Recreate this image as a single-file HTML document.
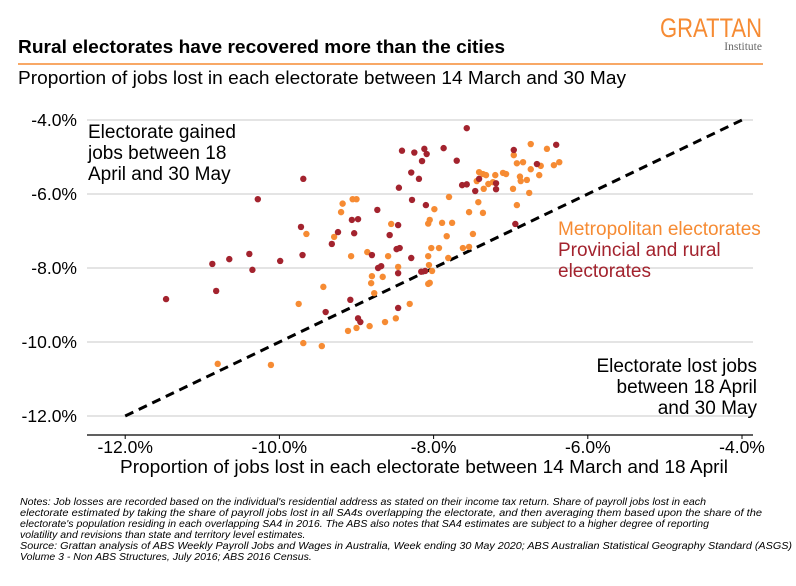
<!DOCTYPE html>
<html><head><meta charset="utf-8"><style>
body{margin:0;background:#fff;width:796px;height:581px;overflow:hidden;font-family:"Liberation Sans",Arial,sans-serif}
svg text{font-family:"Liberation Sans",Arial,sans-serif}
</style></head><body>
<svg id="chart" width="796" height="581" xmlns="http://www.w3.org/2000/svg">
<text x="762" y="37" text-anchor="end" font-size="27" fill="#F68B33" textLength="102" lengthAdjust="spacingAndGlyphs">GRATTAN</text>
<text x="762" y="50" text-anchor="end" font-size="11.5" fill="#666" style="font-family:'Liberation Serif',serif">Institute</text>
<text x="18" y="53" font-size="18.5" font-weight="bold" fill="#000" textLength="487" lengthAdjust="spacingAndGlyphs">Rural electorates have recovered more than the cities</text>
<line x1="18" y1="64" x2="763" y2="64" stroke="#F68B33" stroke-width="1.5"/>
<text x="18" y="84" font-size="18.5" fill="#000" textLength="608" lengthAdjust="spacingAndGlyphs">Proportion of jobs lost in each electorate between 14 March and 30 May</text>
<g id="grid"></g>
<line x1="87" y1="435" x2="753" y2="435" stroke="#000" stroke-width="1.3"/>
<g id="ticks"></g>
<line id="diag" stroke="#000" stroke-width="3" stroke-dasharray="9,6"/>
<g id="points"></g>
<text x="120" y="473" font-size="18.5" fill="#000" textLength="608" lengthAdjust="spacingAndGlyphs">Proportion of jobs lost in each electorate between 14 March and 18 April</text>
<g font-size="19" fill="#000">
<text x="88" y="138">Electorate gained</text><text x="88" y="159">jobs between 18</text><text x="88" y="180">April and 30 May</text></g>
<g font-size="19" fill="#000" text-anchor="end">
<text x="757" y="372">Electorate lost jobs</text><text x="757" y="393">between 18 April</text><text x="757" y="414">and 30 May</text></g>
<text x="558" y="235" font-size="19" fill="#F68B33">Metropolitan electorates</text>
<g font-size="19" fill="#A3232E"><text x="558" y="256">Provincial and rural</text><text x="558" y="277">electorates</text></g>
<g font-size="10.5" font-style="italic" fill="#000">
<text x="20" y="505" textLength="686" lengthAdjust="spacingAndGlyphs">Notes: Job losses are recorded based on the individual's residential address as stated on their income tax return. Share of payroll jobs lost in each</text>
<text x="20" y="516" textLength="742" lengthAdjust="spacingAndGlyphs">electorate estimated by taking the share of payroll jobs lost in all SA4s overlapping the electorate, and then averaging them based upon the share of the</text>
<text x="20" y="527" textLength="689" lengthAdjust="spacingAndGlyphs">electorate's population residing in each overlapping SA4 in 2016. The ABS also notes that SA4 estimates are subject to a higher degree of reporting</text>
<text x="20" y="538">volatility and revisions than state and territory level estimates.</text>
<text x="20" y="549" textLength="772" lengthAdjust="spacingAndGlyphs">Source: Grattan analysis of ABS Weekly Payroll Jobs and Wages in Australia, Week ending 30 May 2020; ABS Australian Statistical Geography Standard (ASGS)</text>
<text x="20" y="560">Volume 3 - Non ABS Structures, July 2016; ABS 2016 Census.</text></g>
</svg>
<script>
const xTicks=[-12,-10,-8,-6,-4];
const yTicks=[-4,-6,-8,-10,-12];
const metroX=[-9.05,-9.0,-9.18,-9.2,-8.55,-9.65,-9.29,-8.86,-9.07,-8.59,-8.46,-8.8,-8.66,-8.81,-8.77,-9.43,-9.75,-8.31,-8.49,-8.63,-8.83,-9.0,-9.11,-9.69,-9.45,-10.8,-10.11,
-6.74,-6.53,-6.96,-6.92,-6.84,-6.74,-6.61,-6.44,-6.37,-6.63,-7.41,-7.36,-7.32,-7.2,-7.1,-7.06,-6.88,-6.87,-6.79,-7.44,-7.29,-7.23,-7.35,-6.97,-6.76,-6.92,-7.42,-7.36,-7.54,-7.8,-7.99,-7.76,-7.89,-7.49,-7.83,-7.62,-7.54,-7.93,-8.03,-7.81,-8.07,-8.06,-8.02,-8.07,-8.05,-8.07,-8.05];
const metroY=[-6.14,-6.14,-6.26,-6.49,-6.81,-7.08,-7.16,-7.57,-7.68,-7.68,-7.97,-8.22,-8.24,-8.41,-8.68,-8.51,-8.97,-8.97,-9.36,-9.46,-9.57,-9.62,-9.7,-10.03,-10.11,-10.59,-10.62,
-4.65,-4.78,-4.95,-5.17,-5.14,-5.33,-5.24,-5.22,-5.14,-5.49,-5.41,-5.46,-5.49,-5.49,-5.43,-5.46,-5.53,-5.65,-5.62,-5.65,-5.73,-5.68,-5.86,-5.86,-5.97,-6.3,-6.22,-6.51,-6.49,-6.08,-6.41,-6.78,-6.78,-7.08,-7.14,-7.46,-7.43,-7.46,-7.46,-7.73,-7.68,-7.92,-8.08,-8.43,-8.4,-6.8,-6.7];
const ruralX=[-8.41,-8.25,-8.12,-8.09,-8.15,-8.29,-8.19,-8.45,-8.28,-8.1,-9.69,-10.28,-8.73,-9.06,-8.98,-8.46,-9.72,-9.03,-8.57,-9.32,-9.24,-8.48,-8.44,-8.8,-8.29,-9.7,-10.39,-10.65,-10.87,-10.35,-9.99,-8.72,-8.68,-8.46,-8.16,-8.11,-10.82,-11.47,-9.08,-9.4,-8.46,-8.98,-8.95,
-7.57,-7.87,-7.7,-6.96,-6.41,-6.66,-7.63,-7.57,-7.41,-7.46,-7.19,-7.19,-6.94];
const ruralY=[-4.83,-4.88,-4.78,-4.92,-5.11,-5.42,-5.59,-5.83,-6.16,-6.3,-5.59,-6.14,-6.43,-6.7,-6.68,-6.84,-6.89,-7.06,-7.11,-7.35,-7.03,-7.49,-7.46,-7.65,-7.73,-7.65,-7.62,-7.76,-7.89,-8.05,-7.81,-8.0,-7.95,-8.14,-8.1,-8.08,-8.62,-8.84,-8.86,-9.19,-9.08,-9.36,-9.46,
-4.22,-4.76,-5.1,-4.81,-4.67,-5.19,-5.76,-5.74,-5.59,-5.92,-5.71,-5.87,-6.81];
const parity=[-12,-4];
const NS="http://www.w3.org/2000/svg";
function xs(v){return 742+(v+4)*77.1;}
function ys(v){return 120+(-4-v)*37;}
const grid=document.getElementById('grid'),ticks=document.getElementById('ticks'),pts=document.getElementById('points');
yTicks.forEach(t=>{
 const l=document.createElementNS(NS,'line');
 
 
 l.setAttribute('x1',87);l.setAttribute('x2',753);l.setAttribute('y1',ys(t));l.setAttribute('y2',ys(t));
 l.setAttribute('stroke','#d4d4d4');l.setAttribute('stroke-width','1.3');grid.appendChild(l);
 const tx=document.createElementNS(NS,'text');
 
 
 tx.setAttribute('x',77);tx.setAttribute('y',ys(t)+6);tx.setAttribute('text-anchor','end');tx.setAttribute('font-size','17.5');
 tx.textContent=t.toFixed(1)+'%';ticks.appendChild(tx);
});
xTicks.forEach(t=>{
 const tx=document.createElementNS(NS,'text');
 
 
 tx.setAttribute('x',xs(t));tx.setAttribute('y',453);tx.setAttribute('text-anchor','middle');tx.setAttribute('font-size','17.5');
 tx.textContent=t.toFixed(1)+'%';ticks.appendChild(tx);
 const tk=document.createElementNS(NS,'line');
 
 
 tk.setAttribute('x1',xs(t));tk.setAttribute('x2',xs(t));tk.setAttribute('y1',435);tk.setAttribute('y2',439);tk.setAttribute('stroke','#000');ticks.appendChild(tk);
});
const d=document.getElementById('diag');
d.setAttribute('x1',xs(parity[0]));d.setAttribute('y1',ys(parity[0]));d.setAttribute('x2',xs(parity[1]));d.setAttribute('y2',ys(parity[1]));
function dots(X,Y,col,name){X.forEach((x,i)=>{
 const c=document.createElementNS(NS,'circle');
 
 
 c.setAttribute('cx',xs(x));c.setAttribute('cy',ys(Y[i]));c.setAttribute('r',3.2);c.setAttribute('fill',col);pts.appendChild(c);});}
dots(metroX,metroY,'#F68B33','metro-point');
dots(ruralX,ruralY,'#A3232E','rural-point');
</script>
</body></html>
